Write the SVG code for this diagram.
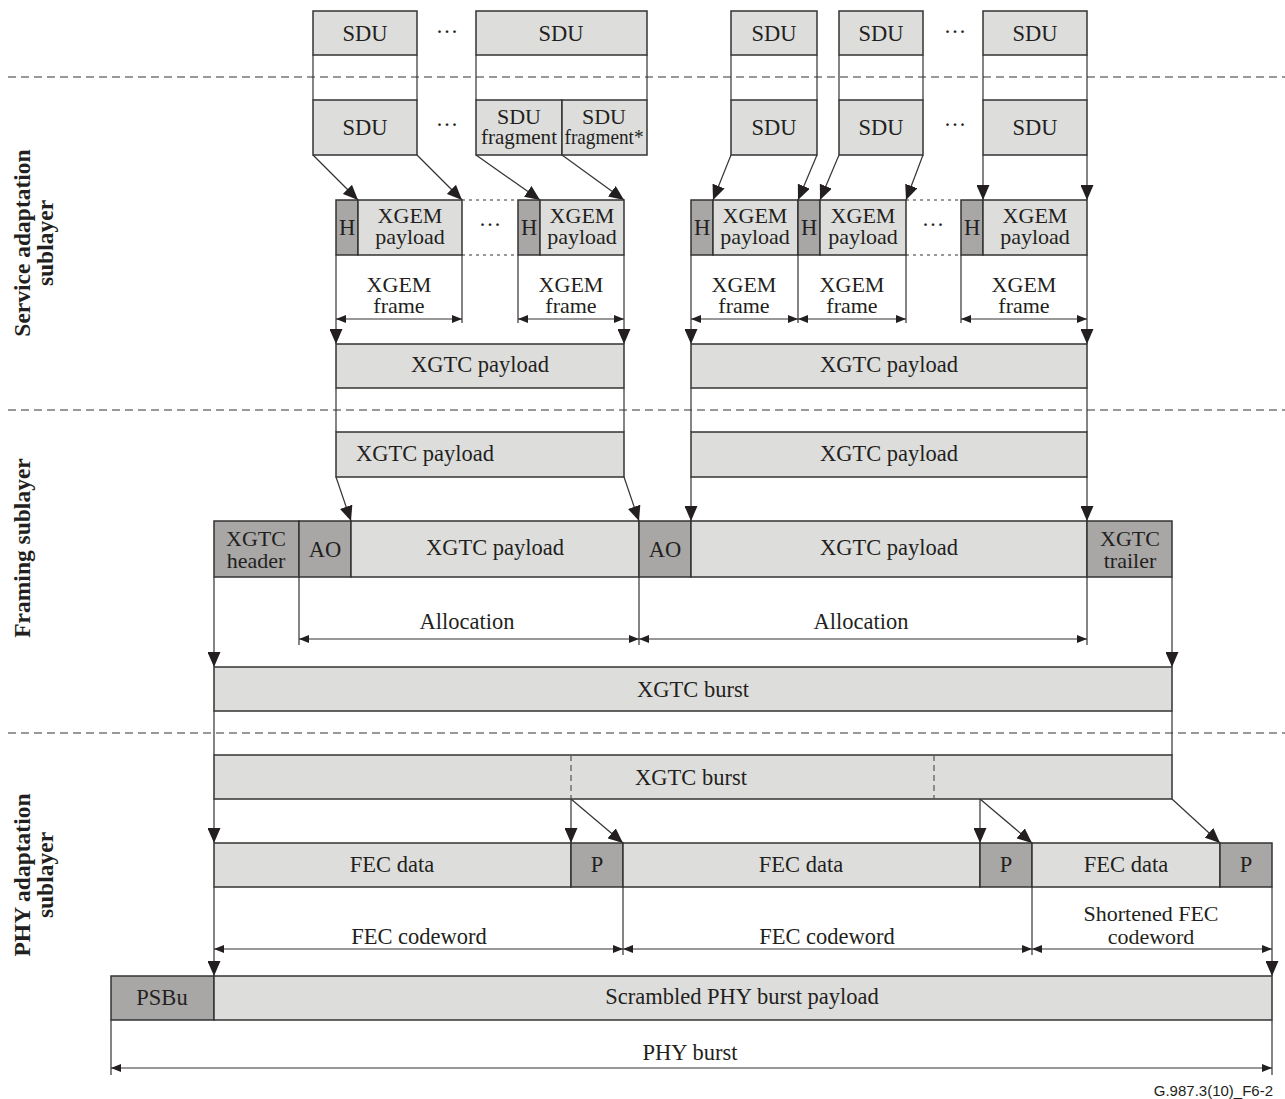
<svg xmlns="http://www.w3.org/2000/svg" width="1285" height="1099" viewBox="0 0 1285 1099">
<style>
  .lt { fill: #dddddc; stroke: #333; stroke-width: 1.5; }
  .dk { fill: #a8a7a6; stroke: #333; stroke-width: 1.5; }
  .t { font-family: "Liberation Serif", "Times New Roman", serif; font-size: 22.5px; fill: #231f20; text-anchor: middle; }
  .t2 { font-family: "Liberation Serif", "Times New Roman", serif; font-size: 22px; fill: #231f20; text-anchor: middle; }
  .lab { font-family: "Liberation Serif", "Times New Roman", serif; font-size: 23.5px; font-weight: bold; fill: #231f20; text-anchor: middle; }
  .sep { stroke: #333; stroke-width: 1; stroke-dasharray: 8 5; fill: none; }
  .ln { stroke: #333; stroke-width: 1.2; fill: none; }
  .ar { stroke: #333; stroke-width: 1.2; fill: none; marker-end: url(#arr); }
  .dim { stroke: #333; stroke-width: 1; fill: none; marker-start: url(#dh); marker-end: url(#dh); }
  .dot { stroke: #333; stroke-width: 1; stroke-dasharray: 3 4; fill: none; }
  .idash { stroke: #555; stroke-width: 1.2; stroke-dasharray: 6 4; fill: none; }
  .fig { font-family: "Liberation Sans", Arial, sans-serif; font-size: 15px; fill: #231f20; text-anchor: end; }
</style>
<defs>
  <marker id="arr" markerUnits="userSpaceOnUse" markerWidth="15" markerHeight="13" refX="15" refY="6.5" orient="auto">
    <path d="M0,0 L15,6.5 L0,13 z" fill="#231f20"/>
  </marker>
  <marker id="dh" markerUnits="userSpaceOnUse" markerWidth="10" markerHeight="8" refX="10" refY="4" orient="auto-start-reverse">
    <path d="M0,0 L10,4 L0,8 z" fill="#231f20"/>
  </marker>
</defs>
<rect width="1285" height="1099" fill="#fff"/>

<g id="separators">
  <line class="sep" x1="8" y1="77" x2="1285" y2="77"/>
  <line class="sep" x1="8" y1="410" x2="1285" y2="410"/>
  <line class="sep" x1="8" y1="733" x2="1285" y2="733"/>
</g>

<g id="layer-labels">
  <g transform="translate(0,243) rotate(-90)">
    <text class="lab" x="0" y="30">Service adaptation</text>
    <text class="lab" x="0" y="53">sublayer</text>
  </g>
  <g transform="translate(0,548) rotate(-90)">
    <text class="lab" x="0" y="30">Framing sublayer</text>
  </g>
  <g transform="translate(0,875) rotate(-90)">
    <text class="lab" x="0" y="30">PHY adaptation</text>
    <text class="lab" x="0" y="53">sublayer</text>
  </g>
</g>

<g id="connectors">
  <line class="ln" x1="313" y1="55" x2="313" y2="100"/>
  <line class="ln" x1="417" y1="55" x2="417" y2="100"/>
  <line class="ln" x1="476" y1="55" x2="476" y2="100"/>
  <line class="ln" x1="647" y1="55" x2="647" y2="100"/>
  <line class="ln" x1="731" y1="55" x2="731" y2="100"/>
  <line class="ln" x1="817" y1="55" x2="817" y2="100"/>
  <line class="ln" x1="839" y1="55" x2="839" y2="100"/>
  <line class="ln" x1="923" y1="55" x2="923" y2="100"/>
  <line class="ln" x1="983" y1="55" x2="983" y2="100"/>
  <line class="ln" x1="1087" y1="55" x2="1087" y2="100"/>
  <line class="ar" x1="313" y1="155" x2="358" y2="200"/>
  <line class="ar" x1="417" y1="155" x2="462" y2="200"/>
  <line class="ar" x1="476" y1="155" x2="540" y2="200"/>
  <line class="ar" x1="562" y1="155" x2="624" y2="200"/>
  <line class="ar" x1="731" y1="155" x2="713" y2="200"/>
  <line class="ar" x1="817" y1="155" x2="798" y2="200"/>
  <line class="ar" x1="839" y1="155" x2="820" y2="200"/>
  <line class="ar" x1="923" y1="155" x2="906" y2="200"/>
  <line class="ar" x1="983" y1="155" x2="983" y2="200"/>
  <line class="ar" x1="1087" y1="155" x2="1087" y2="200"/>
  <line class="dot" x1="462" y1="200" x2="518" y2="200"/>
  <line class="dot" x1="462" y1="255" x2="518" y2="255"/>
  <line class="dot" x1="906" y1="200" x2="961" y2="200"/>
  <line class="dot" x1="906" y1="255" x2="961" y2="255"/>
  <line class="ar" x1="336" y1="255" x2="336" y2="344"/>
  <line class="ln" x1="462" y1="255" x2="462" y2="323"/>
  <line class="ln" x1="518" y1="255" x2="518" y2="323"/>
  <line class="ar" x1="624" y1="255" x2="624" y2="344"/>
  <line class="ar" x1="691" y1="255" x2="691" y2="344"/>
  <line class="ln" x1="798" y1="255" x2="798" y2="323"/>
  <line class="ln" x1="906" y1="255" x2="906" y2="323"/>
  <line class="ln" x1="961" y1="255" x2="961" y2="323"/>
  <line class="ar" x1="1087" y1="255" x2="1087" y2="344"/>
  <line class="dim" x1="336" y1="319" x2="462" y2="319"/>
  <line class="dim" x1="518" y1="319" x2="624" y2="319"/>
  <line class="dim" x1="691" y1="319" x2="798" y2="319"/>
  <line class="dim" x1="798" y1="319" x2="906" y2="319"/>
  <line class="dim" x1="961" y1="319" x2="1087" y2="319"/>
  <line class="ln" x1="336" y1="388" x2="336" y2="432"/>
  <line class="ln" x1="624" y1="388" x2="624" y2="432"/>
  <line class="ln" x1="691" y1="388" x2="691" y2="432"/>
  <line class="ln" x1="1087" y1="388" x2="1087" y2="432"/>
  <line class="ar" x1="336" y1="477" x2="351" y2="521"/>
  <line class="ar" x1="624" y1="477" x2="639" y2="521"/>
  <line class="ar" x1="691" y1="477" x2="691" y2="521"/>
  <line class="ar" x1="1087" y1="477" x2="1087" y2="521"/>
  <line class="ln" x1="299" y1="577" x2="299" y2="645"/>
  <line class="ln" x1="639" y1="577" x2="639" y2="645"/>
  <line class="ln" x1="1087" y1="577" x2="1087" y2="645"/>
  <line class="dim" x1="299" y1="639" x2="639" y2="639"/>
  <line class="dim" x1="639" y1="639" x2="1087" y2="639"/>
  <line class="ar" x1="214" y1="577" x2="214" y2="667"/>
  <line class="ar" x1="1172" y1="577" x2="1172" y2="667"/>
  <line class="ln" x1="214" y1="711" x2="214" y2="755"/>
  <line class="ln" x1="1172" y1="711" x2="1172" y2="755"/>
  <line class="ar" x1="214" y1="799" x2="214" y2="843"/>
  <line class="ar" x1="571" y1="799" x2="571" y2="843"/>
  <line class="ar" x1="571" y1="799" x2="623" y2="843"/>
  <line class="ar" x1="980" y1="799" x2="980" y2="843"/>
  <line class="ar" x1="980" y1="799" x2="1032" y2="843"/>
  <line class="ar" x1="1172" y1="799" x2="1220" y2="843"/>
  <line class="ar" x1="214" y1="887" x2="214" y2="976"/>
  <line class="ln" x1="623" y1="887" x2="623" y2="955"/>
  <line class="ln" x1="1032" y1="887" x2="1032" y2="955"/>
  <line class="ar" x1="1272" y1="887" x2="1272" y2="976"/>
  <line class="dim" x1="214" y1="949" x2="623" y2="949"/>
  <line class="dim" x1="623" y1="949" x2="1032" y2="949"/>
  <line class="dim" x1="1032" y1="949" x2="1272" y2="949"/>
  <line class="ln" x1="111" y1="1020" x2="111" y2="1075"/>
  <line class="ln" x1="1272" y1="1020" x2="1272" y2="1075"/>
  <line class="dim" x1="111" y1="1068" x2="1272" y2="1068"/>
</g>

<g id="sdu-top">
  <g id="sdu-t1"><rect class="lt" x="313" y="11" width="104" height="44"/><text class="t" x="365" y="41">SDU</text></g>
  <text class="t" x="447" y="39">···</text>
  <g id="sdu-t2"><rect class="lt" x="476" y="11" width="171" height="44"/><text class="t" x="561" y="41">SDU</text></g>
  <g id="sdu-t3"><rect class="lt" x="731" y="11" width="86" height="44"/><text class="t" x="774" y="41">SDU</text></g>
  <g id="sdu-t4"><rect class="lt" x="839" y="11" width="84" height="44"/><text class="t" x="881" y="41">SDU</text></g>
  <text class="t" x="955" y="39">···</text>
  <g id="sdu-t5"><rect class="lt" x="983" y="11" width="104" height="44"/><text class="t" x="1035" y="41">SDU</text></g>
</g>

<g id="sdu-second">
  <g id="sdu-s1"><rect class="lt" x="313" y="100" width="104" height="55"/><text class="t" x="365" y="135">SDU</text></g>
  <text class="t" x="447" y="132">···</text>
  <g id="sdu-frag1"><rect class="lt" x="476" y="100" width="86" height="55"/><text class="t2" x="519" y="124">SDU</text><text class="t2" x="519" y="144" textLength="76" lengthAdjust="spacingAndGlyphs">fragment</text></g>
  <g id="sdu-frag2"><rect class="lt" x="562" y="100" width="85" height="55"/><text class="t2" x="604" y="124">SDU</text><text class="t2" x="604" y="144" textLength="79" lengthAdjust="spacingAndGlyphs">fragment*</text></g>
  <g id="sdu-s3"><rect class="lt" x="731" y="100" width="86" height="55"/><text class="t" x="774" y="135">SDU</text></g>
  <g id="sdu-s4"><rect class="lt" x="839" y="100" width="84" height="55"/><text class="t" x="881" y="135">SDU</text></g>
  <text class="t" x="955" y="132">···</text>
  <g id="sdu-s5"><rect class="lt" x="983" y="100" width="104" height="55"/><text class="t" x="1035" y="135">SDU</text></g>
</g>

<g id="xgem-frames">
  <g id="xgem1"><rect class="dk" x="336" y="200" width="22" height="55"/><text class="t" x="347" y="235">H</text>
    <rect class="lt" x="358" y="200" width="104" height="55"/><text class="t2" x="410" y="223">XGEM</text><text class="t2" x="410" y="244">payload</text></g>
  <text class="t" x="490" y="232">···</text>
  <g id="xgem2"><rect class="dk" x="518" y="200" width="22" height="55"/><text class="t" x="529" y="235">H</text>
    <rect class="lt" x="540" y="200" width="84" height="55"/><text class="t2" x="582" y="223">XGEM</text><text class="t2" x="582" y="244">payload</text></g>
  <g id="xgem3"><rect class="dk" x="691" y="200" width="22" height="55"/><text class="t" x="702" y="235">H</text>
    <rect class="lt" x="713" y="200" width="85" height="55"/><text class="t2" x="755" y="223">XGEM</text><text class="t2" x="755" y="244">payload</text></g>
  <g id="xgem4"><rect class="dk" x="798" y="200" width="22" height="55"/><text class="t" x="809" y="235">H</text>
    <rect class="lt" x="820" y="200" width="86" height="55"/><text class="t2" x="863" y="223">XGEM</text><text class="t2" x="863" y="244">payload</text></g>
  <text class="t" x="933" y="232">···</text>
  <g id="xgem5"><rect class="dk" x="961" y="200" width="22" height="55"/><text class="t" x="972" y="235">H</text>
    <rect class="lt" x="983" y="200" width="104" height="55"/><text class="t2" x="1035" y="223">XGEM</text><text class="t2" x="1035" y="244">payload</text></g>
</g>

<g id="xgem-frame-labels">
  <text class="t2" x="399" y="292">XGEM</text><text class="t2" x="399" y="313">frame</text>
  <text class="t2" x="571" y="292">XGEM</text><text class="t2" x="571" y="313">frame</text>
  <text class="t2" x="744" y="292">XGEM</text><text class="t2" x="744" y="313">frame</text>
  <text class="t2" x="852" y="292">XGEM</text><text class="t2" x="852" y="313">frame</text>
  <text class="t2" x="1024" y="292">XGEM</text><text class="t2" x="1024" y="313">frame</text>
</g>

<g id="xgtc-payload-sa">
  <g id="xp-sa1"><rect class="lt" x="336" y="344" width="288" height="44"/><text class="t" x="480" y="372">XGTC payload</text></g>
  <g id="xp-sa2"><rect class="lt" x="691" y="344" width="396" height="44"/><text class="t" x="889" y="372">XGTC payload</text></g>
</g>

<g id="xgtc-payload-fr">
  <g id="xp-fr1"><rect class="lt" x="336" y="432" width="288" height="45"/><text class="t" x="425" y="461">XGTC payload</text></g>
  <g id="xp-fr2"><rect class="lt" x="691" y="432" width="396" height="45"/><text class="t" x="889" y="461">XGTC payload</text></g>
</g>

<g id="xgtc-frame">
  <g id="xgtc-header"><rect class="dk" x="214" y="521" width="85" height="56"/><text class="t2" x="256" y="546">XGTC</text><text class="t2" x="256" y="568">header</text></g>
  <g id="ao1"><rect class="dk" x="299" y="521" width="52" height="56"/><text class="t" x="325" y="557">AO</text></g>
  <g id="xp-f1"><rect class="lt" x="351" y="521" width="288" height="56"/><text class="t" x="495" y="555">XGTC payload</text></g>
  <g id="ao2"><rect class="dk" x="639" y="521" width="52" height="56"/><text class="t" x="665" y="557">AO</text></g>
  <g id="xp-f2"><rect class="lt" x="691" y="521" width="396" height="56"/><text class="t" x="889" y="555">XGTC payload</text></g>
  <g id="xgtc-trailer"><rect class="dk" x="1087" y="521" width="85" height="56"/><text class="t2" x="1130" y="546">XGTC</text><text class="t2" x="1130" y="568">trailer</text></g>
</g>

<g id="allocation-labels">
  <text class="t" x="467" y="629">Allocation</text>
  <text class="t" x="861" y="629">Allocation</text>
</g>

<g id="xgtc-burst-fr"><rect class="lt" x="214" y="667" width="958" height="44"/><text class="t" x="693" y="697">XGTC burst</text></g>

<g id="xgtc-burst-phy"><rect class="lt" x="214" y="755" width="958" height="44"/>
  <line class="idash" x1="571" y1="755" x2="571" y2="799"/>
  <line class="idash" x1="934" y1="755" x2="934" y2="799"/>
  <text class="t" x="691" y="785">XGTC burst</text></g>

<g id="fec-row">
  <g id="fec1"><rect class="lt" x="214" y="843" width="357" height="44"/><text class="t" x="392" y="872">FEC data</text></g>
  <g id="p1"><rect class="dk" x="571" y="843" width="52" height="44"/><text class="t" x="597" y="872">P</text></g>
  <g id="fec2"><rect class="lt" x="623" y="843" width="357" height="44"/><text class="t" x="801" y="872">FEC data</text></g>
  <g id="p2"><rect class="dk" x="980" y="843" width="52" height="44"/><text class="t" x="1006" y="872">P</text></g>
  <g id="fec3"><rect class="lt" x="1032" y="843" width="188" height="44"/><text class="t" x="1126" y="872">FEC data</text></g>
  <g id="p3"><rect class="dk" x="1220" y="843" width="52" height="44"/><text class="t" x="1246" y="872">P</text></g>
</g>

<g id="codeword-labels">
  <text class="t" x="419" y="944">FEC codeword</text>
  <text class="t" x="827" y="944">FEC codeword</text>
  <text class="t2" x="1151" y="921">Shortened FEC</text>
  <text class="t2" x="1151" y="944">codeword</text>
</g>

<g id="phy-row">
  <g id="psbu"><rect class="dk" x="111" y="976" width="103" height="44"/><text class="t" x="162" y="1005">PSBu</text></g>
  <g id="scrambled"><rect class="lt" x="214" y="976" width="1058" height="44"/><text class="t" x="742" y="1004">Scrambled PHY burst payload</text></g>
</g>

<text class="t" x="690" y="1060">PHY burst</text>
<text class="fig" x="1273" y="1096">G.987.3(10)_F6-2</text>
</svg>
